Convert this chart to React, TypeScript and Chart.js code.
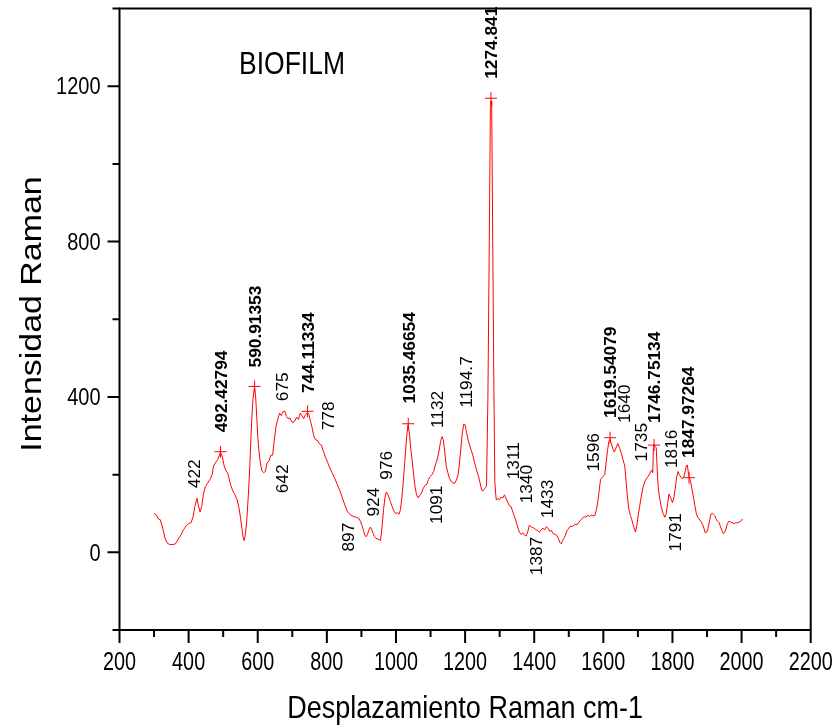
import React, { useEffect, useRef } from "react";
import { Chart, registerables } from "chart.js";

Chart.register(...registerables);

// Raman spectrum (wavenumber cm-1, intensity)
const wavenumbers = [
  300, 308, 312, 318, 325, 332, 338, 345, 355, 362, 370, 378, 385, 393, 400, 407, 413, 418, 424, 428,
  433, 438, 443, 449, 455, 462, 468, 472, 477, 484, 489, 492, 497, 503, 508, 513, 517, 522, 528, 533,
  540, 545, 550, 554, 558, 561, 564, 568, 573, 577, 581, 585, 588, 591, 594, 597, 600, 604, 608, 612,
  617, 622, 627, 633, 638, 643, 648, 653, 658, 663, 668, 673, 678, 683, 688, 693, 698, 703, 708, 713,
  718, 723, 728, 733, 738, 744, 748, 752, 757, 762, 767, 773, 778, 784, 790, 796, 802, 808, 815, 822,
  830, 837, 845, 852, 858, 864, 870, 878, 886, 892, 897, 902, 906, 910, 914, 918, 922, 926, 930, 934,
  938, 942, 948, 952, 955, 958, 961, 964, 968, 972, 976, 980, 984, 989, 994, 999, 1004, 1009, 1013, 1017,
  1021, 1026, 1031, 1035, 1039, 1043, 1047, 1051, 1055, 1059, 1064, 1069, 1074, 1079, 1084, 1089, 1094, 1099, 1104, 1109,
  1114, 1119, 1124, 1129, 1133, 1137, 1141, 1145, 1150, 1155, 1160, 1165, 1170, 1175, 1180, 1186, 1191, 1196, 1200, 1204,
  1208, 1213, 1218, 1223, 1228, 1233, 1238, 1243, 1248, 1252, 1255, 1262, 1266, 1270, 1273, 1275, 1277, 1280, 1283, 1286,
  1290, 1295, 1300, 1304, 1309, 1314, 1318, 1323, 1328, 1333, 1338, 1343, 1348, 1353, 1357, 1362, 1367, 1372, 1377, 1382,
  1386, 1390, 1395, 1400, 1405, 1410, 1415, 1420, 1425, 1430, 1435, 1440, 1445, 1450, 1455, 1460, 1465, 1470, 1474, 1478,
  1482, 1486, 1490, 1495, 1500, 1505, 1510, 1515, 1520, 1525, 1530, 1535, 1540, 1545, 1550, 1555, 1560, 1565, 1570, 1575,
  1580, 1584, 1588, 1592, 1596, 1600, 1604, 1608, 1612, 1616, 1619, 1623, 1628, 1632, 1637, 1642, 1647, 1652, 1657, 1662,
  1666, 1670, 1674, 1678, 1682, 1686, 1690, 1693, 1697, 1701, 1705, 1710, 1715, 1720, 1725, 1730, 1735, 1740, 1743, 1745,
  1747, 1750, 1753, 1756, 1759, 1763, 1768, 1773, 1778, 1782, 1786, 1790, 1795, 1800, 1804, 1808, 1812, 1816, 1820, 1824,
  1828, 1832, 1836, 1840, 1843, 1846, 1849, 1853, 1857, 1861, 1865, 1869, 1873, 1877, 1882, 1887, 1891, 1895, 1899, 1903,
  1907, 1911, 1915, 1919, 1923, 1927, 1931, 1935, 1939, 1943, 1947, 1951, 1955, 1959, 1963, 1968, 1973, 1978, 1983, 1988,
  1993, 1998, 2003,
];

const intensities = [
  100, 95, 86, 84, 62, 35, 24, 20, 20, 22, 34, 45, 58, 68, 74, 76, 92, 118, 139, 122,
  104, 118, 152, 170, 178, 188, 200, 222, 230, 238, 250, 257, 248, 222, 210, 204, 190, 172, 158, 150,
  136, 118, 90, 62, 38, 30, 45, 80, 150, 220, 310, 380, 410, 424, 400, 350, 300, 256, 228, 210,
  205, 208, 230, 236, 250, 250, 290, 325, 342, 358, 352, 362, 364, 350, 344, 346, 336, 334, 340, 348,
  342, 358, 352, 344, 354, 360, 355, 340, 322, 300, 290, 288, 280, 276, 260, 245, 232, 218, 205, 192,
  175, 160, 140, 122, 108, 100, 95, 92, 90, 88, 80, 68, 56, 44, 40, 48, 58, 65, 58, 48,
  40, 36, 34, 32, 30, 50, 80, 110, 140, 155, 150, 140, 130, 118, 106, 100, 102, 98, 110, 140,
  180, 240, 300, 328, 305, 265, 235, 200, 170, 150, 140, 146, 152, 165, 172, 175, 188, 195, 200, 208,
  225, 238, 258, 285, 298, 290, 260, 225, 205, 190, 182, 178, 178, 186, 200, 250, 300, 330, 328, 310,
  292, 276, 262, 248, 228, 212, 198, 180, 160, 158, 162, 170, 400, 800, 1140, 1162, 1150, 800, 450, 180,
  135, 138, 136, 142, 140, 148, 140, 130, 120, 118, 104, 92, 78, 62, 52, 46, 50, 44, 42, 55,
  70, 66, 64, 62, 58, 56, 52, 58, 62, 58, 66, 62, 54, 56, 48, 46, 44, 35, 26, 22,
  30, 36, 44, 56, 62, 68, 66, 70, 72, 72, 78, 84, 88, 92, 90, 96, 92, 96, 94, 94,
  110, 130, 160, 188, 192, 196, 200, 230, 262, 285, 291, 280, 265, 258, 270, 280, 268, 255, 238, 222,
  180, 140, 110, 95, 85, 72, 60, 52, 70, 96, 118, 145, 168, 182, 190, 196, 204, 212, 205, 270,
  278, 272, 270, 210, 165, 140, 115, 100, 90, 100, 125, 150, 140, 128, 140, 165, 192, 208, 200, 194,
  190, 192, 205, 222, 225, 205, 192, 180, 160, 140, 120, 100, 90, 86, 80, 72, 62, 50, 52, 62,
  80, 98, 100, 98, 94, 84, 80, 76, 66, 56, 48, 52, 60, 74, 80, 78, 76, 74, 76, 76,
  78, 80, 86,
];

// Marked peaks (red crosses)
const peakPositions = [492.43, 590.91, 744.11, 1035.47, 1274.84, 1619.54, 1746.75, 1847.97];
const peakIntensities = [259, 427, 363, 331, 1169, 295, 276, 192];

// Bold labels of marked peaks, anchored at the start of the rotated text (data coords)
const peakLabels = ["492.42794", "590.91353", "744.11334", "1035.46654", "1274.841", "1619.54079", "1746.75134", "1847.97264"];
const peakLabelX = [494, 592, 746, 1038, 1275, 1621, 1747, 1846];
const peakLabelY = [309, 476, 410, 383, 1219, 346, 333, 243];

// Regular band labels
const bandLabels = ["422", "675", "642", "778", "897", "924", "976", "1091", "1132", "1194.7", "1311", "1340", "1387", "1433", "1596", "1640", "1735", "1791", "1816"];
const bandLabelX = [416, 671, 671, 804, 862, 934, 973, 1116, 1119, 1202, 1338, 1378, 1407, 1438, 1571, 1662, 1711, 1807, 1798];
const bandLabelY = [165, 389, 152, 314, 2, 92, 187, 73, 320, 372, 188, 126, -59, 88, 208, 333, 234, 2, 217];

// Axes
const xMajorTicks = [200, 400, 600, 800, 1000, 1200, 1400, 1600, 1800, 2000, 2200];
const xMinorTicks = [300, 500, 700, 900, 1100, 1300, 1500, 1700, 1900, 2100];
const yMajorTicks = [0, 400, 800, 1200];
const yMinorTicks = [-200, 200, 600, 1000, 1400];

const chartTitle = "BIOFILM";
const xTitle = "Desplazamiento Raman cm-1";
const yTitle = "Intensidad Raman";

const FONT = "'Liberation Sans', Arial, Helvetica, sans-serif";
const STRETCH = 1.15;

function drawText(
  ctx: CanvasRenderingContext2D,
  text: string,
  x: number,
  y: number,
  font: string,
  rot: number,
  sx: number,
  sy: number,
  align: CanvasTextAlign,
  dy = 0
) {
  ctx.save();
  ctx.translate(x, y);
  ctx.rotate(rot);
  ctx.scale(sx, sy);
  ctx.font = font;
  ctx.textAlign = align;
  ctx.textBaseline = "alphabetic";
  ctx.fillText(text, 0, dy);
  ctx.restore();
}

const decorPlugin = {
  id: "decor",
  afterDraw(chart: any) {
    const { ctx, chartArea } = chart;
    const { left, right, top, bottom } = chartArea;
    const xs = chart.scales.x;
    const ys = chart.scales.y;
    ctx.save();
    ctx.fillStyle = "#000";
    ctx.strokeStyle = "#000";

    // rotated labels
    const lblSize = 16;
    const lblStretch = 1.08;
    peakLabels.forEach((t, i) => {
      const px = xs.getPixelForValue(peakLabelX[i]);
      const py = ys.getPixelForValue(peakLabelY[i]);
      drawText(ctx, t, px, py, `bold ${lblSize}px ${FONT}`, -Math.PI / 2, lblStretch, 1, "left", (lblSize * 0.716) / 2);
    });
    bandLabels.forEach((t, i) => {
      const px = xs.getPixelForValue(bandLabelX[i]);
      const py = ys.getPixelForValue(bandLabelY[i]);
      drawText(ctx, t, px, py, `${lblSize}px ${FONT}`, -Math.PI / 2, lblStretch, 1, "left", (lblSize * 0.716) / 2);
    });

    // frame
    ctx.lineWidth = 2;
    ctx.strokeRect(left, top, right - left, bottom - top);

    // ticks
    ctx.beginPath();
    xMajorTicks.forEach((v) => {
      const px = xs.getPixelForValue(v);
      ctx.moveTo(px, bottom);
      ctx.lineTo(px, bottom + 13);
    });
    xMinorTicks.forEach((v) => {
      const px = xs.getPixelForValue(v);
      ctx.moveTo(px, bottom);
      ctx.lineTo(px, bottom + 7);
    });
    yMajorTicks.forEach((v) => {
      const py = ys.getPixelForValue(v);
      ctx.moveTo(left, py);
      ctx.lineTo(left - 12, py);
    });
    yMinorTicks.forEach((v) => {
      const py = ys.getPixelForValue(v);
      ctx.moveTo(left, py);
      ctx.lineTo(left - 7, py);
    });
    ctx.stroke();

    // x tick labels
    const xtSize = 22;
    xMajorTicks.forEach((v) => {
      const px = xs.getPixelForValue(v);
      drawText(ctx, String(v), px, bottom + 22 + xtSize * 0.716 * STRETCH, `${xtSize}px ${FONT}`, 0, 0.9, STRETCH, "center");
    });
    // y tick labels
    const ytSize = 20;
    yMajorTicks.forEach((v) => {
      const py = ys.getPixelForValue(v);
      drawText(ctx, String(v), left - 19, py + (ytSize * 0.716 * STRETCH) / 2, `${ytSize}px ${FONT}`, 0, 1, STRETCH, "right");
    });

    // titles
    const tSize = 27;
    drawText(ctx, xTitle, (left + right) / 2, bottom + 88, `${tSize}px ${FONT}`, 0, 1, STRETCH, "center");
    const ySize = 29;
    drawText(ctx, yTitle, 31, 314, `${ySize}px ${FONT}`, -Math.PI / 2, 1.17, 1, "center", (ySize * 0.716) / 2);
    drawText(ctx, chartTitle, 239, 74, `26.5px ${FONT}`, 0, 1, STRETCH, "left");

    ctx.restore();
  },
};

export default function App() {
  const ref = useRef<HTMLCanvasElement>(null);
  useEffect(() => {
    if (!ref.current) return;
    const chart = new Chart(ref.current, {
      type: "line",
      data: {
        datasets: [
          {
            data: wavenumbers.map((w, i) => ({ x: w, y: intensities[i] })),
            borderColor: "#ff0000",
            borderWidth: 1,
            pointRadius: 0,
            tension: 0,
            fill: false,
          },
          {
            type: "scatter",
            data: peakPositions.map((w, i) => ({ x: w, y: peakIntensities[i] })),
            borderColor: "#ff0000",
            backgroundColor: "#ff0000",
            pointStyle: "cross",
            pointRadius: 6,
            borderWidth: 1,
            showLine: false,
          } as any,
        ],
      },
      options: {
        animation: false,
        responsive: false,
        devicePixelRatio: 1,
        layout: { padding: { left: 119.5, right: 29.3, top: 8.5, bottom: 96 } },
        scales: {
          x: { type: "linear", min: 200, max: 2200, display: false },
          y: { type: "linear", min: -200, max: 1400, display: false },
        },
        plugins: { legend: { display: false }, tooltip: { enabled: false } },
      },
      plugins: [decorPlugin],
    });
    return () => chart.destroy();
  }, []);
  return (
    <div style={{ position: "absolute", left: 0, top: 0, width: 840, height: 726, background: "#fff" }}>
      <canvas ref={ref} width={840} height={726} style={{ display: "block" }} />
    </div>
  );
}
